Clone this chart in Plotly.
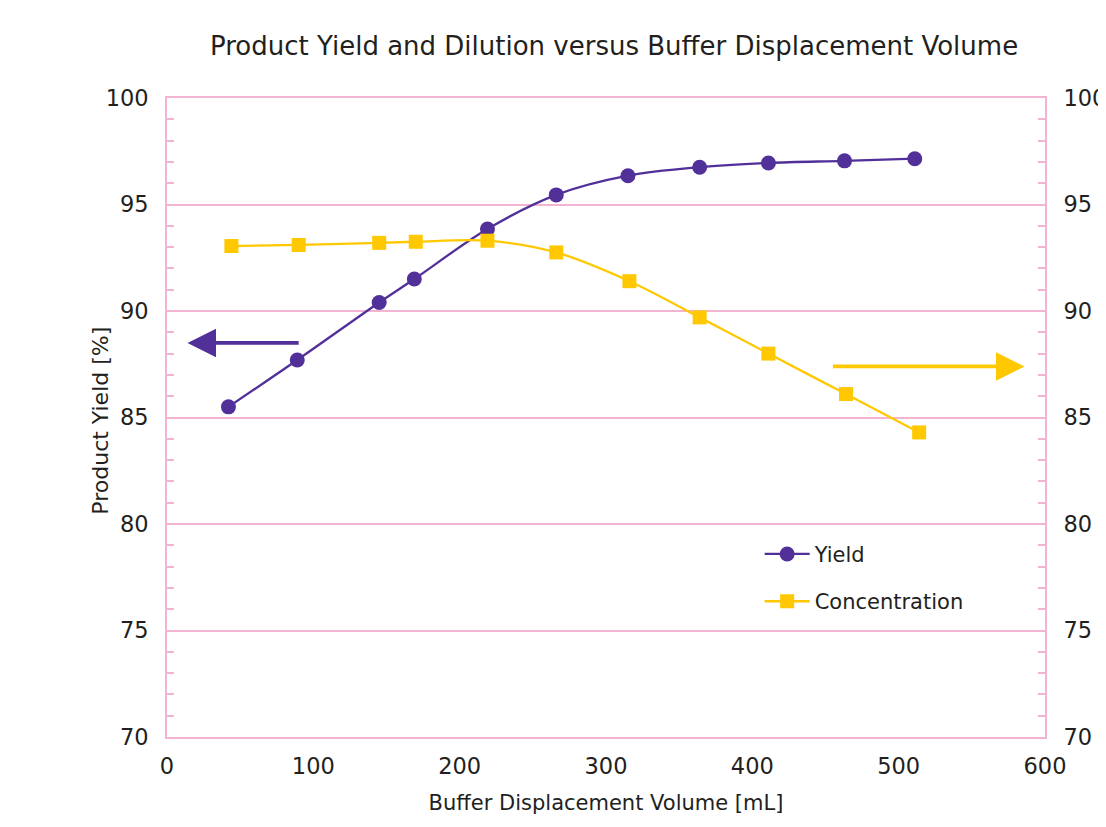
import plotly.graph_objects as go

volume_yield = [42, 89, 145, 169, 219, 266, 315, 364, 411, 463, 511]
yield_pct = [85.5, 87.7, 90.4, 91.5, 93.85, 95.45, 96.35, 96.75, 96.95, 97.05, 97.15]
volume_conc = [44, 90, 145, 170, 219, 266, 316, 364, 411, 464, 514]
concentration = [93.05, 93.1, 93.2, 93.25, 93.3, 92.75, 91.4, 89.7, 88.0, 86.1, 84.3]

PURPLE = "#52309A"
YELLOW = "#FFC800"
PINK = "#F3B3D2"
TEXT = "#231F20"
FONT = "DejaVu Sans"

fig = go.Figure()
fig.add_trace(go.Scatter(
    x=volume_yield, y=yield_pct, name="Yield", mode="lines+markers",
    legendgroup="a",
    line=dict(color=PURPLE, width=2.3, shape="spline", smoothing=1),
    marker=dict(symbol="circle", size=15, color=PURPLE),
))
fig.add_trace(go.Scatter(
    x=volume_conc, y=concentration, name="Concentration", mode="lines+markers",
    yaxis="y2", legendgroup="b",
    line=dict(color=YELLOW, width=2.3, shape="spline", smoothing=1),
    marker=dict(symbol="square", size=14, color=YELLOW),
))

# direction arrows
fig.add_annotation(x=14, y=88.5, ax=91, ay=88.5, xref="x", yref="y", axref="x", ayref="y",
                   showarrow=True, arrowhead=2, arrowsize=1.5, arrowwidth=3.8,
                   arrowcolor=PURPLE, text="")
fig.add_annotation(x=586, y=87.4, ax=454, ay=87.4, xref="x", yref="y", axref="x", ayref="y",
                   showarrow=True, arrowhead=2, arrowsize=1.5, arrowwidth=3.8,
                   arrowcolor=YELLOW, text="")

# left axis title
fig.add_annotation(text="Product Yield [%]", xref="paper", yref="paper",
                   x=-0.0752, y=0.495, xanchor="center", yanchor="middle",
                   textangle=-90, showarrow=False,
                   font=dict(size=22, color=TEXT, family=FONT))

axis_common = dict(
    range=[70, 100], dtick=5, tick0=70, automargin=False,
    showgrid=True, gridcolor=PINK, gridwidth=1.5,
    showline=True, linecolor=PINK, linewidth=1.8,
    ticks="", zeroline=False, ticklabelstandoff=12,
    tickfont=dict(size=22.5, color=TEXT, family=FONT),
    minor=dict(ticks="inside", dtick=1, ticklen=7, tickcolor=PINK, tickwidth=1.6, showgrid=False),
)

fig.update_layout(
    width=1098, height=819,
    margin=dict(l=159, r=61, t=90, b=90, autoexpand=False),
    paper_bgcolor="white", plot_bgcolor="white",
    font=dict(family=FONT, color=TEXT),
    title=dict(text="Product Yield and Dilution versus Buffer Displacement Volume",
               x=0.552, xanchor="center", y=0.9536, yanchor="middle",
               font=dict(size=26, color=TEXT, family=FONT)),
    xaxis=dict(range=[0, 600], dtick=100, showgrid=False, zeroline=False, automargin=False,
               showline=True, linecolor=PINK, linewidth=1.8, mirror=True, ticks="",
               ticklabelstandoff=8,
               tickfont=dict(size=22.5, color=TEXT, family=FONT),
               title=dict(text="Buffer Displacement Volume [mL]", standoff=17,
                          font=dict(size=21, color=TEXT, family=FONT))),
    yaxis=dict(**axis_common),
    yaxis2=dict(**axis_common, overlaying="y", side="right", showticklabels=True),
    legend=dict(x=0.675, y=0.318, xanchor="left", yanchor="top",
                bgcolor="rgba(0,0,0,0)", borderwidth=0, tracegroupgap=17,
                itemwidth=45,
                font=dict(size=21, color=TEXT, family=FONT)),
    showlegend=True,
)

fig.write_html("out.html")
